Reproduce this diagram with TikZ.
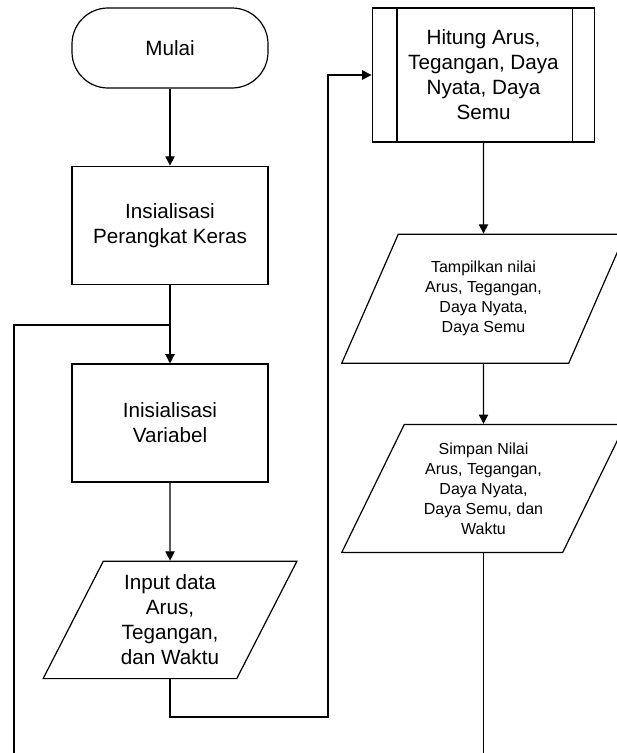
\documentclass[tikz,border=0pt]{standalone}
\usepackage{fontspec}
\setmainfont{Liberation Sans}
\usetikzlibrary{positioning, arrows.meta, shapes.geometric, calc}

\begin{document}
\begin{tikzpicture}[
      x=0.75pt, y=-0.75pt,
      font=\fontsize{15.5}{18.8}\selectfont,
      line width=0.9pt,
      term/.style={draw, rounded corners=27pt, minimum width=147pt, minimum height=60pt, align=center},
      block/.style={draw, minimum width=147pt, minimum height=89pt, align=center, inner sep=2pt},
      proc/.style={draw, minimum width=167pt, minimum height=100.5pt, align=center, inner sep=2pt},
      io/.style={draw, trapezium, trapezium stretches=true, align=center, inner sep=1pt},
      small/.style={font=\fontsize{12}{15}\selectfont},
      arr/.style={-{Triangle[length=7pt, width=7pt]}}
    ]
    \useasboundingbox (0,0) rectangle (617,753);
    %% left column
    \node[term] (mulai) at (170,48) {Mulai};
    \node[block, below=57.75pt of mulai] (hw) {Insialisasi\\Perangkat Keras};
    \node[block, below=58.5pt of hw, minimum height=88.5pt] (var) {Inisialisasi\\Variabel};
    \node[io, below=58.5pt of var, minimum width=190.5pt, minimum height=88pt,
          trapezium left angle=64, trapezium right angle=116] (input) {Input data\\Arus,\\Tegangan,\\dan Waktu};
    \draw[arr] (mulai) -- (hw);
    \draw[arr] (hw) -- (var);
    \draw[arr] (var) -- (input);
    %% right column
    \node[proc] (hitung) at (483.5,75) {Hitung Arus,\\Tegangan, Daya\\Nyata, Daya\\Semu};
    \draw ([xshift=19pt]hitung.north west) -- ([xshift=19pt]hitung.south west);
    \draw ([xshift=-17pt]hitung.north east) -- ([xshift=-17pt]hitung.south east);
    \node[io, small, below=68.25pt of hitung, minimum width=213pt, minimum height=96.75pt,
          trapezium left angle=63, trapezium right angle=117] (tampil) {Tampilkan nilai\\Arus, Tegangan,\\Daya Nyata,\\Daya Semu};
    \node[io, small, below=45pt of tampil, minimum width=213pt, minimum height=96pt,
          trapezium left angle=63, trapezium right angle=117] (simpan) {Simpan Nilai\\Arus, Tegangan,\\Daya Nyata,\\Daya Semu, dan\\Waktu};
    \draw[arr] (hitung) -- (tampil);
    \draw[arr] (tampil) -- (simpan);
    %% loop lines
    \coordinate (bend) at (328,717);
    \coordinate (join) at (170,325);
    \coordinate (loopL) at (14,753);
    \coordinate (loopR) at (simpan.south |- 0,753);
    \draw[arr] (input.south) |- (bend) |- (hitung.west);
    \draw (simpan.south) -- (loopR);
    \draw (loopL) |- (join);
  \end{tikzpicture}
\end{document}
